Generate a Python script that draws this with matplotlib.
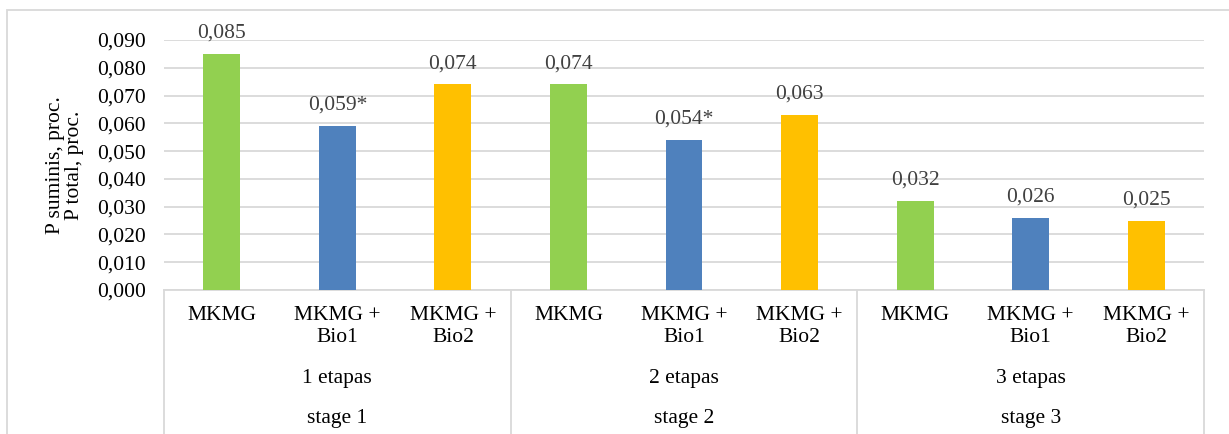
import numpy as np
import matplotlib.pyplot as plt
import matplotlib.transforms as mtransforms
from matplotlib.patches import Rectangle

# duomenys
treatments = ['MKMG', 'MKMG +\nBio1', 'MKMG +\nBio2']
stages_lt = ['1 etapas', '2 etapas', '3 etapas']
stages_en = ['stage 1', 'stage 2', 'stage 3']
values = [0.085, 0.059, 0.074, 0.074, 0.054, 0.063, 0.032, 0.026, 0.025]
value_labels = ['0,085', '0,059*', '0,074', '0,074', '0,054*', '0,063', '0,032', '0,026', '0,025']
colors = ['#92D050', '#4F81BD', '#FFC000']

plt.rcParams['font.family'] = 'serif'
plt.rcParams['font.serif'] = ['Liberation Serif', 'DejaVu Serif']
FS = 15.5

W, H = 1229, 434
fig = plt.figure(figsize=(W / 100, H / 100), dpi=100)
ax = fig.add_axes([164 / W, 1 - 290 / H, (1204 - 164) / W, 250 / H])

# outer chart border
fig.patches.append(Rectangle((7 / W, -0.1), 1.2, 1 - 10 / H + 0.1, transform=fig.transFigure,
                             fill=False, edgecolor='#d9d9d9', linewidth=1.3))

x = np.arange(len(values))
bar_colors = [colors[i % 3] for i in range(len(values))]
ax.bar(x, values, width=0.32, color=bar_colors, zorder=3)

for xi, v, lab in zip(x, values, value_labels):
    ax.annotate(lab, (xi, v), xytext=(0, 8), textcoords='offset points',
                ha='center', va='bottom', fontsize=FS, color='#404040',
                annotation_clip=False)

ax.set_xlim(-0.5, len(values) - 0.5)
ax.set_ylim(0, 0.09)
ticks = np.arange(0, 0.0901, 0.01)
ax.set_yticks(ticks)
ax.set_yticklabels([('%.3f' % t).replace('.', ',') for t in ticks], fontsize=FS)
ax.yaxis.grid(True, color='#d9d9d9', linewidth=1.3, zorder=0)
ax.tick_params(axis='y', length=0, pad=13)
ax.set_xticks([])
for s in ['top', 'right', 'left']:
    ax.spines[s].set_visible(False)
ax.spines['bottom'].set_color('#d9d9d9')
ax.spines['bottom'].set_linewidth(1.3)

fig.text(65 / W, 1 - 165 / H, 'P suminis, proc.\nP total, proc.', rotation=90,
         ha='center', va='center', multialignment='center', fontsize=FS, linespacing=1.05)

# multi-level category axis
trans = mtransforms.blended_transform_factory(ax.transData, ax.transAxes)
for i in range(len(values)):
    ax.text(i, -16 / 250, treatments[i % 3], transform=trans, ha='center', va='top',
            fontsize=FS, linespacing=1.2)
for g in range(3):
    ax.text(3 * g + 1, -89 / 250, stages_lt[g], transform=trans, ha='center', va='center',
            fontsize=FS)
    ax.text(3 * g + 1, -129 / 250, stages_en[g], transform=trans, ha='center', va='center',
            fontsize=FS)
for b in [-0.5, 2.5, 5.5, 8.5]:
    ax.plot([b, b], [0, -0.6], transform=trans, color='#d9d9d9', linewidth=1.3, clip_on=False)

fig.savefig('out.png', dpi=100)
